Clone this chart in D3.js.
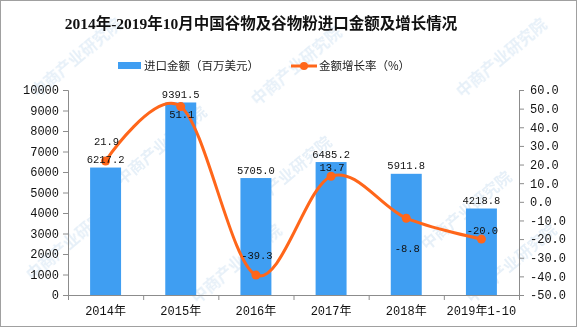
<!DOCTYPE html>
<html><head><meta charset="utf-8">
<script src="https://cdn.jsdelivr.net/npm/d3@7"></script>
<style>
body{margin:0;background:#fff;}
svg{display:block;}
</style></head><body>
<svg id="c" width="577" height="327"></svg>
<script>
const categories = ["2014年","2015年","2016年","2017年","2018年","2019年1-10"];
const importValues = [6217.2, 9391.5, 5705.0, 6485.2, 5911.8, 4218.8];
const growthRates = [21.9, 51.1, -39.3, 13.7, -8.8, -20.0];
const leftTicks = [0,1000,2000,3000,4000,5000,6000,7000,8000,9000,10000];
const rightTicks = [-50,-40,-30,-20,-10,0,10,20,30,40,50,60];
const titleText = "2014年-2019年10月中国谷物及谷物粉进口金额及增长情况";
const legendLabels = ["进口金额（百万美元）","金额增长率（%）"];

// label offsets (style, not data)
const growthLabelDy = [-20, 7, -20, -9, 30, -9];

const svg = d3.select("#c");
const W = 577, H = 327;
const L = 68, R = 519, T = 90, B = 295;
const BAR = "#3f9ef2", LINE = "#ff661a", AX = "#8c8c8c";
const NUM = "'Liberation Mono','DejaVu Sans Mono',monospace";
const CJK = "'Liberation Mono','Noto Sans CJK SC',sans-serif";

svg.append("rect").attr("x",0.5).attr("y",0.5).attr("width",W-1).attr("height",H-1)
  .attr("fill","#fff").attr("stroke","#a0a0a0");

// watermarks
const wm = svg.append("g").attr("fill","#b9d4ec").attr("opacity",0.35)
  .attr("font-family","'Noto Sans CJK SC',sans-serif").attr("font-size",16).attr("font-weight","bold");
[[80,62],[300,70],[505,62],[165,150],[290,180],[470,215],[240,268],[75,245],[515,268]].forEach(([x,y])=>{
  wm.append("text").attr("transform",`translate(${x},${y}) rotate(-40)`).attr("text-anchor","middle").text("中商产业研究院");
});

const x = d3.scaleBand().domain(categories).range([L,R]).paddingInner(0.588).paddingOuter(0.294);
const xb = d3.scaleLinear().domain([0,categories.length]).range([L,R]);
const yL = d3.scaleLinear().domain([0,10000]).range([B,T]);
const yR = d3.scaleLinear().domain([-50,60]).range([B,T]);

// title
svg.append("text").attr("x",261).attr("y",29).attr("text-anchor","middle")
  .attr("font-family","'Liberation Serif','Noto Sans CJK SC',serif").attr("font-weight","bold")
  .attr("font-size",15.5).attr("fill","#111").text(titleText);

// legend
const lg = svg.append("g").attr("font-family","'Noto Sans CJK SC',sans-serif").attr("font-size",11.5).attr("fill","#222");
lg.append("rect").attr("x",118).attr("y",62).attr("width",23).attr("height",7).attr("fill",BAR);
lg.append("text").attr("x",144).attr("y",70).text(legendLabels[0]);
lg.append("line").attr("x1",291).attr("x2",317).attr("y1",66).attr("y2",66).attr("stroke",LINE).attr("stroke-width",3);
lg.append("circle").attr("cx",304).attr("cy",66).attr("r",4).attr("fill",LINE);
lg.append("text").attr("x",319).attr("y",70).text(legendLabels[1]);

// bars
svg.append("g").selectAll("rect").data(importValues).join("rect")
  .attr("x",(d,i)=>x(categories[i])).attr("width",x.bandwidth())
  .attr("y",d=>yL(d)).attr("height",d=>B-yL(d)).attr("fill",BAR);

// axes
const axL = svg.append("g").attr("transform",`translate(${L},0)`)
  .call(d3.axisLeft(yL).tickValues(leftTicks).tickSize(5).tickPadding(4).tickFormat(d3.format("d")));
const axR = svg.append("g").attr("transform",`translate(${R},0)`)
  .call(d3.axisRight(yR).tickValues(rightTicks).tickSize(5).tickPadding(6).tickFormat(d=>d3.format(".1f")(d).replace("−","-")));
const axB = svg.append("g").attr("transform",`translate(0,${B})`)
  .call(d3.axisBottom(xb).tickValues(d3.range(categories.length+1)).tickSize(5).tickFormat(""));
[axL,axR,axB].forEach(a=>{
  a.select(".domain").attr("stroke",AX);
  a.selectAll(".tick line").attr("stroke",AX);
  a.selectAll("text").attr("font-family",NUM).attr("font-size",12).attr("fill","#111");
});
axB.select(".domain").attr("d",`M${L},0.5H${R}`);

// x labels
svg.append("g").selectAll("text").data(categories).join("text")
  .attr("x",d=>x(d)+x.bandwidth()/2).attr("y",315).attr("text-anchor","middle")
  .attr("font-family",CJK).attr("font-size",12).attr("fill","#111").text(d=>d);

// line
const cx = i=>x(categories[i])+x.bandwidth()/2;
const line = d3.line().x((d,i)=>cx(i)).y(d=>yR(d)).curve(d3.curveCardinal.tension(0));
svg.append("path").datum(growthRates).attr("d",line).attr("fill","none")
  .attr("stroke",LINE).attr("stroke-width",3);
svg.append("g").selectAll("circle").data(growthRates).join("circle")
  .attr("cx",(d,i)=>cx(i)).attr("cy",d=>yR(d)).attr("r",4.5).attr("fill",LINE);

// bar labels
svg.append("g").selectAll("text").data(importValues).join("text")
  .attr("x",(d,i)=>cx(i)).attr("y",d=>yL(d)-4.5).attr("text-anchor","middle")
  .attr("font-family",NUM).attr("font-size",10.5).attr("fill","#111").text(d=>d.toFixed(1));

// growth labels
svg.append("g").selectAll("text").data(growthRates).join("text")
  .attr("x",(d,i)=>cx(i)+1).attr("y",(d,i)=>yR(d)+growthLabelDy[i]+4).attr("text-anchor","middle")
  .attr("font-family",NUM).attr("font-size",10.5).attr("fill","#111").text(d=>d.toFixed(1));
</script>
</body></html>
